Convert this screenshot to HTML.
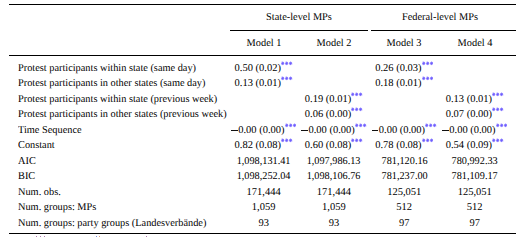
<!DOCTYPE html>
<html><head><meta charset="utf-8"><style>
html,body{margin:0;padding:0;background:#fff;}
body{width:531px;height:237px;position:relative;overflow:hidden;font-family:"Liberation Serif",serif;color:#000;text-rendering:geometricPrecision;}
.t{position:absolute;font-size:10.5px;line-height:12px;height:12px;white-space:nowrap;}
.c{width:200px;text-align:center;}
.h{transform:scaleX(0.985);transform-origin:100px 0;}
.lab{transform:scaleX(0.983);transform-origin:0 0;}
.n{display:inline-block;transform:scaleX(1.0);}
.w{transform:scaleX(0.977);}
.mn{display:inline-block;width:6.5px;height:0.8px;background:#111;vertical-align:2.5px;margin-right:0.7px;}
.st{display:inline-block;vertical-align:baseline;position:relative;top:-5.2px;margin-left:0.2px;stroke:#6d5cff;stroke-width:0.9;fill:none;}
.r{position:absolute;background:#000;}
.fm{position:absolute;top:236px;width:1px;height:1px;background:#b07ab0;}
</style></head><body>
<div class="r" style="left:9px;top:4px;width:507px;height:1.3px"></div>
<div class="r" style="left:230px;top:29.6px;width:138px;height:0.9px"></div>
<div class="r" style="left:371px;top:29.6px;width:145px;height:0.9px"></div>
<div class="r" style="left:9px;top:54.8px;width:507px;height:1.3px"></div>
<div class="r" style="left:9px;top:233px;width:507px;height:1.3px"></div>
<div class="t c h" style="left:199.00px;top:12.00px">State-level MPs</div><div class="t c h" style="left:340.00px;top:12.00px">Federal-level MPs</div><div class="t c h" style="left:163.65px;top:37.80px">Model 1</div><div class="t c h" style="left:233.90px;top:37.80px">Model 2</div><div class="t c h" style="left:304.20px;top:37.80px">Model 3</div><div class="t c h" style="left:374.70px;top:37.80px">Model 4</div><div class="t lab" style="left:18px;top:63.00px">Protest participants within state (same day)</div><div class="t c num" style="left:163.65px;top:63.00px"><span class="n">0.50 (0.02)</span><svg class="st" width="11.5" height="5" viewBox="0 0 11.5 5"><path d="M1.7 0.6V4.1M0.09999999999999987 2.35H3.3M0.5999999999999999 1.25L2.8 3.45M0.5999999999999999 3.45L2.8 1.25" /><path d="M5.65 0.6V4.1M4.050000000000001 2.35H7.25M4.550000000000001 1.25L6.75 3.45M4.550000000000001 3.45L6.75 1.25" /><path d="M9.6 0.6V4.1M8.0 2.35H11.2M8.5 1.25L10.7 3.45M8.5 3.45L10.7 1.25" /></svg></div><div class="t c num" style="left:304.20px;top:63.00px"><span class="n">0.26 (0.03)</span><svg class="st" width="11.5" height="5" viewBox="0 0 11.5 5"><path d="M1.7 0.6V4.1M0.09999999999999987 2.35H3.3M0.5999999999999999 1.25L2.8 3.45M0.5999999999999999 3.45L2.8 1.25" /><path d="M5.65 0.6V4.1M4.050000000000001 2.35H7.25M4.550000000000001 1.25L6.75 3.45M4.550000000000001 3.45L6.75 1.25" /><path d="M9.6 0.6V4.1M8.0 2.35H11.2M8.5 1.25L10.7 3.45M8.5 3.45L10.7 1.25" /></svg></div><div class="t lab" style="left:18px;top:78.48px">Protest participants in other states (same day)</div><div class="t c num" style="left:163.65px;top:78.48px"><span class="n">0.13 (0.01)</span><svg class="st" width="11.5" height="5" viewBox="0 0 11.5 5"><path d="M1.7 0.6V4.1M0.09999999999999987 2.35H3.3M0.5999999999999999 1.25L2.8 3.45M0.5999999999999999 3.45L2.8 1.25" /><path d="M5.65 0.6V4.1M4.050000000000001 2.35H7.25M4.550000000000001 1.25L6.75 3.45M4.550000000000001 3.45L6.75 1.25" /><path d="M9.6 0.6V4.1M8.0 2.35H11.2M8.5 1.25L10.7 3.45M8.5 3.45L10.7 1.25" /></svg></div><div class="t c num" style="left:304.20px;top:78.48px"><span class="n">0.18 (0.01)</span><svg class="st" width="11.5" height="5" viewBox="0 0 11.5 5"><path d="M1.7 0.6V4.1M0.09999999999999987 2.35H3.3M0.5999999999999999 1.25L2.8 3.45M0.5999999999999999 3.45L2.8 1.25" /><path d="M5.65 0.6V4.1M4.050000000000001 2.35H7.25M4.550000000000001 1.25L6.75 3.45M4.550000000000001 3.45L6.75 1.25" /><path d="M9.6 0.6V4.1M8.0 2.35H11.2M8.5 1.25L10.7 3.45M8.5 3.45L10.7 1.25" /></svg></div><div class="t lab" style="left:18px;top:93.96px">Protest participants within state (previous week)</div><div class="t c num" style="left:233.90px;top:93.96px"><span class="n">0.19 (0.01)</span><svg class="st" width="11.5" height="5" viewBox="0 0 11.5 5"><path d="M1.7 0.6V4.1M0.09999999999999987 2.35H3.3M0.5999999999999999 1.25L2.8 3.45M0.5999999999999999 3.45L2.8 1.25" /><path d="M5.65 0.6V4.1M4.050000000000001 2.35H7.25M4.550000000000001 1.25L6.75 3.45M4.550000000000001 3.45L6.75 1.25" /><path d="M9.6 0.6V4.1M8.0 2.35H11.2M8.5 1.25L10.7 3.45M8.5 3.45L10.7 1.25" /></svg></div><div class="t c num" style="left:374.70px;top:93.96px"><span class="n">0.13 (0.01)</span><svg class="st" width="11.5" height="5" viewBox="0 0 11.5 5"><path d="M1.7 0.6V4.1M0.09999999999999987 2.35H3.3M0.5999999999999999 1.25L2.8 3.45M0.5999999999999999 3.45L2.8 1.25" /><path d="M5.65 0.6V4.1M4.050000000000001 2.35H7.25M4.550000000000001 1.25L6.75 3.45M4.550000000000001 3.45L6.75 1.25" /><path d="M9.6 0.6V4.1M8.0 2.35H11.2M8.5 1.25L10.7 3.45M8.5 3.45L10.7 1.25" /></svg></div><div class="t lab" style="left:18px;top:109.44px">Protest participants in other states (previous week)</div><div class="t c num" style="left:233.90px;top:109.44px"><span class="n">0.06 (0.00)</span><svg class="st" width="11.5" height="5" viewBox="0 0 11.5 5"><path d="M1.7 0.6V4.1M0.09999999999999987 2.35H3.3M0.5999999999999999 1.25L2.8 3.45M0.5999999999999999 3.45L2.8 1.25" /><path d="M5.65 0.6V4.1M4.050000000000001 2.35H7.25M4.550000000000001 1.25L6.75 3.45M4.550000000000001 3.45L6.75 1.25" /><path d="M9.6 0.6V4.1M8.0 2.35H11.2M8.5 1.25L10.7 3.45M8.5 3.45L10.7 1.25" /></svg></div><div class="t c num" style="left:374.70px;top:109.44px"><span class="n">0.07 (0.00)</span><svg class="st" width="11.5" height="5" viewBox="0 0 11.5 5"><path d="M1.7 0.6V4.1M0.09999999999999987 2.35H3.3M0.5999999999999999 1.25L2.8 3.45M0.5999999999999999 3.45L2.8 1.25" /><path d="M5.65 0.6V4.1M4.050000000000001 2.35H7.25M4.550000000000001 1.25L6.75 3.45M4.550000000000001 3.45L6.75 1.25" /><path d="M9.6 0.6V4.1M8.0 2.35H11.2M8.5 1.25L10.7 3.45M8.5 3.45L10.7 1.25" /></svg></div><div class="t lab" style="left:18px;top:124.92px">Time Sequence</div><div class="t c num" style="left:163.65px;top:124.92px"><span class="n"><span class="mn"></span>0.00 (0.00)</span><svg class="st" width="11.5" height="5" viewBox="0 0 11.5 5"><path d="M1.7 0.6V4.1M0.09999999999999987 2.35H3.3M0.5999999999999999 1.25L2.8 3.45M0.5999999999999999 3.45L2.8 1.25" /><path d="M5.65 0.6V4.1M4.050000000000001 2.35H7.25M4.550000000000001 1.25L6.75 3.45M4.550000000000001 3.45L6.75 1.25" /><path d="M9.6 0.6V4.1M8.0 2.35H11.2M8.5 1.25L10.7 3.45M8.5 3.45L10.7 1.25" /></svg></div><div class="t c num" style="left:233.90px;top:124.92px"><span class="n"><span class="mn"></span>0.00 (0.00)</span><svg class="st" width="11.5" height="5" viewBox="0 0 11.5 5"><path d="M1.7 0.6V4.1M0.09999999999999987 2.35H3.3M0.5999999999999999 1.25L2.8 3.45M0.5999999999999999 3.45L2.8 1.25" /><path d="M5.65 0.6V4.1M4.050000000000001 2.35H7.25M4.550000000000001 1.25L6.75 3.45M4.550000000000001 3.45L6.75 1.25" /><path d="M9.6 0.6V4.1M8.0 2.35H11.2M8.5 1.25L10.7 3.45M8.5 3.45L10.7 1.25" /></svg></div><div class="t c num" style="left:304.20px;top:124.92px"><span class="n"><span class="mn"></span>0.00 (0.00)</span><svg class="st" width="11.5" height="5" viewBox="0 0 11.5 5"><path d="M1.7 0.6V4.1M0.09999999999999987 2.35H3.3M0.5999999999999999 1.25L2.8 3.45M0.5999999999999999 3.45L2.8 1.25" /><path d="M5.65 0.6V4.1M4.050000000000001 2.35H7.25M4.550000000000001 1.25L6.75 3.45M4.550000000000001 3.45L6.75 1.25" /><path d="M9.6 0.6V4.1M8.0 2.35H11.2M8.5 1.25L10.7 3.45M8.5 3.45L10.7 1.25" /></svg></div><div class="t c num" style="left:374.70px;top:124.92px"><span class="n"><span class="mn"></span>0.00 (0.00)</span><svg class="st" width="11.5" height="5" viewBox="0 0 11.5 5"><path d="M1.7 0.6V4.1M0.09999999999999987 2.35H3.3M0.5999999999999999 1.25L2.8 3.45M0.5999999999999999 3.45L2.8 1.25" /><path d="M5.65 0.6V4.1M4.050000000000001 2.35H7.25M4.550000000000001 1.25L6.75 3.45M4.550000000000001 3.45L6.75 1.25" /><path d="M9.6 0.6V4.1M8.0 2.35H11.2M8.5 1.25L10.7 3.45M8.5 3.45L10.7 1.25" /></svg></div><div class="t lab" style="left:18px;top:140.40px">Constant</div><div class="t c num" style="left:163.65px;top:140.40px"><span class="n">0.82 (0.08)</span><svg class="st" width="11.5" height="5" viewBox="0 0 11.5 5"><path d="M1.7 0.6V4.1M0.09999999999999987 2.35H3.3M0.5999999999999999 1.25L2.8 3.45M0.5999999999999999 3.45L2.8 1.25" /><path d="M5.65 0.6V4.1M4.050000000000001 2.35H7.25M4.550000000000001 1.25L6.75 3.45M4.550000000000001 3.45L6.75 1.25" /><path d="M9.6 0.6V4.1M8.0 2.35H11.2M8.5 1.25L10.7 3.45M8.5 3.45L10.7 1.25" /></svg></div><div class="t c num" style="left:233.90px;top:140.40px"><span class="n">0.60 (0.08)</span><svg class="st" width="11.5" height="5" viewBox="0 0 11.5 5"><path d="M1.7 0.6V4.1M0.09999999999999987 2.35H3.3M0.5999999999999999 1.25L2.8 3.45M0.5999999999999999 3.45L2.8 1.25" /><path d="M5.65 0.6V4.1M4.050000000000001 2.35H7.25M4.550000000000001 1.25L6.75 3.45M4.550000000000001 3.45L6.75 1.25" /><path d="M9.6 0.6V4.1M8.0 2.35H11.2M8.5 1.25L10.7 3.45M8.5 3.45L10.7 1.25" /></svg></div><div class="t c num" style="left:304.20px;top:140.40px"><span class="n">0.78 (0.08)</span><svg class="st" width="11.5" height="5" viewBox="0 0 11.5 5"><path d="M1.7 0.6V4.1M0.09999999999999987 2.35H3.3M0.5999999999999999 1.25L2.8 3.45M0.5999999999999999 3.45L2.8 1.25" /><path d="M5.65 0.6V4.1M4.050000000000001 2.35H7.25M4.550000000000001 1.25L6.75 3.45M4.550000000000001 3.45L6.75 1.25" /><path d="M9.6 0.6V4.1M8.0 2.35H11.2M8.5 1.25L10.7 3.45M8.5 3.45L10.7 1.25" /></svg></div><div class="t c num" style="left:374.70px;top:140.40px"><span class="n">0.54 (0.09)</span><svg class="st" width="11.5" height="5" viewBox="0 0 11.5 5"><path d="M1.7 0.6V4.1M0.09999999999999987 2.35H3.3M0.5999999999999999 1.25L2.8 3.45M0.5999999999999999 3.45L2.8 1.25" /><path d="M5.65 0.6V4.1M4.050000000000001 2.35H7.25M4.550000000000001 1.25L6.75 3.45M4.550000000000001 3.45L6.75 1.25" /><path d="M9.6 0.6V4.1M8.0 2.35H11.2M8.5 1.25L10.7 3.45M8.5 3.45L10.7 1.25" /></svg></div><div class="t lab" style="left:18px;top:155.88px">AIC</div><div class="t c num" style="left:163.65px;top:155.88px"><span class="n w">1,098,131.41</span></div><div class="t c num" style="left:233.90px;top:155.88px"><span class="n w">1,097,986.13</span></div><div class="t c num" style="left:304.20px;top:155.88px"><span class="n w">781,120.16</span></div><div class="t c num" style="left:374.70px;top:155.88px"><span class="n w">780,992.33</span></div><div class="t lab" style="left:18px;top:171.36px">BIC</div><div class="t c num" style="left:163.65px;top:171.36px"><span class="n w">1,098,252.04</span></div><div class="t c num" style="left:233.90px;top:171.36px"><span class="n w">1,098,106.76</span></div><div class="t c num" style="left:304.20px;top:171.36px"><span class="n w">781,237.00</span></div><div class="t c num" style="left:374.70px;top:171.36px"><span class="n w">781,109.17</span></div><div class="t lab" style="left:18px;top:186.84px">Num. obs.</div><div class="t c num" style="left:163.65px;top:186.84px"><span class="n">171,444</span></div><div class="t c num" style="left:233.90px;top:186.84px"><span class="n">171,444</span></div><div class="t c num" style="left:304.20px;top:186.84px"><span class="n">125,051</span></div><div class="t c num" style="left:374.70px;top:186.84px"><span class="n">125,051</span></div><div class="t lab" style="left:18px;top:202.32px">Num. groups: MPs</div><div class="t c num" style="left:163.65px;top:202.32px"><span class="n">1,059</span></div><div class="t c num" style="left:233.90px;top:202.32px"><span class="n">1,059</span></div><div class="t c num" style="left:304.20px;top:202.32px"><span class="n">512</span></div><div class="t c num" style="left:374.70px;top:202.32px"><span class="n">512</span></div><div class="t lab" style="left:18px;top:217.80px">Num. groups: party groups (Landesverbände)</div><div class="t c num" style="left:163.65px;top:217.80px"><span class="n">93</span></div><div class="t c num" style="left:233.90px;top:217.80px"><span class="n">93</span></div><div class="t c num" style="left:304.20px;top:217.80px"><span class="n">97</span></div><div class="t c num" style="left:374.70px;top:217.80px"><span class="n">97</span></div>
<div class="fm" style="left:36px"></div><div class="fm" style="left:40px"></div><div class="fm" style="left:44px"></div><div class="fm" style="left:96px;background:#7f8fe0"></div><div class="fm" style="left:99px;background:#e0a080"></div><div class="fm" style="left:146px"></div>
</body></html>
